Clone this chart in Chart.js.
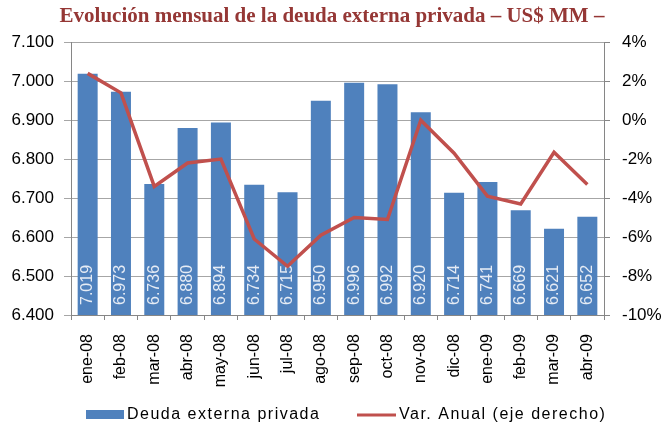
<!DOCTYPE html>
<html>
<head>
<meta charset="utf-8">
<script src="https://cdn.jsdelivr.net/npm/chart.js@4"></script>
<style>
  html, body { margin: 0; padding: 0; background: #fff; }
  #wrap { width: 664px; height: 427px; }
</style>
</head>
<body>
<div id="wrap"><canvas id="chart" width="664" height="427"></canvas></div>
<script>
// months shown on the x axis
const months = ["ene-08", "feb-08", "mar-08", "abr-08", "may-08", "jun-08", "jul-08", "ago-08",
                "sep-08", "oct-08", "nov-08", "dic-08", "ene-09", "feb-09", "mar-09", "abr-09"];
// deuda externa privada, US$ MM
const deuda = [7019, 6973, 6736, 6880, 6894, 6734, 6715, 6950,
               6996, 6992, 6920, 6714, 6741, 6669, 6621, 6652];
// variacion anual, %
const varAnual = [2.4, 1.4, -3.4, -2.2, -2.0, -6.1, -7.5, -5.9,
                  -5.0, -5.1, 0.0, -1.7, -3.9, -4.3, -1.65, -3.3];

const leftMin = 6400, leftMax = 7100, leftStep = 100;
const rightMin = -10, rightMax = 4, rightStep = 2;

const blue = '#4F81BD';
const red = '#C0504D';
const gridGray = '#A6A6A6';
const axisGray = '#868686';
const sans = '"Liberation Sans", Arial, sans-serif';

function miles(v) {
  return Math.round(v).toString().replace(/\B(?=(\d{3})+(?!\d))/g, '.');
}

// values written inside the bars, bottom to top
const barLabels = {
  id: 'barLabels',
  afterDatasetDraw(chart, args) {
    if (args.index !== 0) return;
    const ctx = chart.ctx;
    const bottom = chart.chartArea.bottom;
    ctx.save();
    ctx.font = '16px ' + sans;
    ctx.fillStyle = '#E6ECF5';
    ctx.textAlign = 'left';
    ctx.textBaseline = 'middle';
    args.meta.data.forEach((bar, i) => {
      ctx.save();
      ctx.translate(bar.x, bottom - 10);
      ctx.rotate(-Math.PI / 2);
      ctx.fillText(miles(deuda[i]), 0, 0);
      ctx.restore();
    });
    ctx.restore();
  }
};

// legend along the bottom: a wide box for the bars, a stroke for the line
const bottomLegend = {
  id: 'bottomLegend',
  afterDraw(chart) {
    const ctx = chart.ctx;
    const y = 415;
    ctx.save();
    ctx.font = '16px ' + sans;
    ctx.letterSpacing = '1.5px';
    ctx.textBaseline = 'middle';
    ctx.textAlign = 'left';

    ctx.fillStyle = blue;
    ctx.fillRect(86, y - 5, 38, 9);
    ctx.fillStyle = '#000';
    ctx.fillText(chart.data.datasets[0].label, 127, y);

    ctx.strokeStyle = red;
    ctx.lineWidth = 3;
    ctx.beginPath();
    ctx.moveTo(357, y);
    ctx.lineTo(396, y);
    ctx.stroke();
    ctx.fillText(chart.data.datasets[1].label, 399, y);
    ctx.restore();
  }
};

const ctx = document.getElementById('chart').getContext('2d');
new Chart(ctx, {
  data: {
    labels: months,
    datasets: [
      {
        type: 'bar',
        label: 'Deuda externa privada',
        data: deuda,
        backgroundColor: blue,
        borderWidth: 0,
        barPercentage: 0.6,
        categoryPercentage: 1.0,
        yAxisID: 'y',
        order: 1
      },
      {
        type: 'line',
        label: 'Var. Anual (eje derecho)',
        data: varAnual,
        borderColor: red,
        backgroundColor: red,
        borderWidth: 3.5,
        pointRadius: 0,
        tension: 0,
        yAxisID: 'y1',
        order: 0
      }
    ]
  },
  options: {
    responsive: false,
    animation: false,
    layout: { padding: { left: 0, right: 0, top: 0, bottom: 27 } },
    plugins: {
      legend: { display: false },
      tooltip: { enabled: false },
      title: {
        display: true,
        text: 'Evolución mensual de la deuda externa privada – US$ MM –',
        color: '#953735',
        font: { family: '"Liberation Serif", "Times New Roman", serif', size: 21, weight: 'bold' },
        padding: { top: 4, bottom: 13 }
      }
    },
    scales: {
      x: {
        offset: true,
        grid: { offset: true, drawOnChartArea: false, tickLength: 5, color: axisGray },
        border: { color: axisGray },
        ticks: {
          color: '#000',
          font: { family: sans, size: 16 },
          minRotation: 90,
          maxRotation: 90,
          padding: 14,
          autoSkip: false
        },
        afterFit(scale) { scale.height = 85; }
      },
      y: {
        position: 'left',
        min: leftMin,
        max: leftMax,
        grid: { color: gridGray, tickLength: 7 },
        border: { color: axisGray },
        ticks: {
          stepSize: leftStep,
          color: '#000',
          font: { family: sans, size: 17 },
          padding: 10,
          callback: v => miles(v)
        },
        afterFit(scale) { scale.width = 71; }
      },
      y1: {
        position: 'right',
        min: rightMin,
        max: rightMax,
        grid: { drawOnChartArea: false, tickLength: 6, color: axisGray },
        border: { color: axisGray },
        ticks: {
          stepSize: rightStep,
          color: '#000',
          font: { family: sans, size: 17 },
          padding: 12,
          callback: v => v + '%'
        },
        afterFit(scale) { scale.width = 60; }
      }
    }
  },
  plugins: [barLabels, bottomLegend]
});
</script>
</body>
</html>
